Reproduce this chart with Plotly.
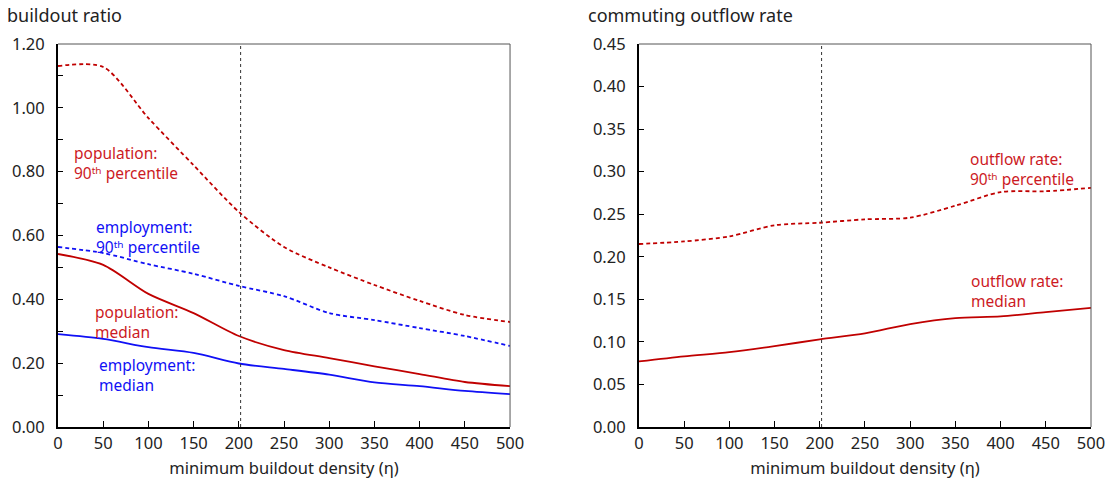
import plotly.graph_objects as go

# Minimum buildout density (eta)
eta = [0, 50, 100, 150, 200, 250, 300, 350, 400, 450, 500]

# Left panel: buildout ratio
pop_p90 = [1.131, 1.128, 0.968, 0.820, 0.674, 0.564, 0.500, 0.445, 0.395, 0.351, 0.329]
emp_p90 = [0.564, 0.545, 0.510, 0.480, 0.442, 0.410, 0.357, 0.335, 0.310, 0.285, 0.254]
pop_med = [0.542, 0.508, 0.417, 0.357, 0.285, 0.241, 0.216, 0.190, 0.166, 0.141, 0.128]
emp_med = [0.291, 0.276, 0.250, 0.232, 0.199, 0.182, 0.164, 0.140, 0.128, 0.113, 0.103]

# Right panel: commuting outflow rate
out_p90 = [0.215, 0.218, 0.224, 0.237, 0.240, 0.244, 0.246, 0.260, 0.276, 0.277, 0.281]
out_med = [0.077, 0.083, 0.088, 0.095, 0.103, 0.110, 0.121, 0.128, 0.130, 0.135, 0.140]

eta_ref = 202
RED = "#C00000"
RED_TXT = "#CC1A24"
BLUE = "#1010F5"
FONT = "Noto Sans"
TXT = "#222"
P90 = "90ᵗʰ percentile"

fig = go.Figure()

def add_line(x, y, color, dashed, xa, ya):
    fig.add_trace(go.Scatter(
        x=x, y=y, mode="lines", xaxis=xa, yaxis=ya,
        line=dict(color=color, width=1.8, shape="spline", smoothing=0.8,
                  dash="4px,3px" if dashed else "solid"),
        showlegend=False, hoverinfo="skip"))

add_line(eta, pop_p90, RED, True, "x", "y")
add_line(eta, emp_p90, BLUE, True, "x", "y")
add_line(eta, pop_med, RED, False, "x", "y")
add_line(eta, emp_med, BLUE, False, "x", "y")
add_line(eta, out_p90, RED, True, "x2", "y2")
add_line(eta, out_med, RED, False, "x2", "y2")

xcommon = dict(range=[0, 500], tickvals=list(range(0, 501, 50)), ticks="inside",
               ticklen=6, tickcolor="black", showline=True, linecolor="black",
               linewidth=1.5, showgrid=False, zeroline=False, automargin=False,
               tickfont=dict(family=FONT, size=16.5, color=TXT),
               title=dict(text="minimum buildout density (η)",
                          font=dict(family=FONT, size=16.5, color=TXT), standoff=10))

ycommon = dict(domain=[0, 1], tickformat=".2f", ticks="inside", ticklen=5, tickcolor="black",
               showline=True, linecolor="black", linewidth=2, showgrid=False, zeroline=False,
               ticklabelstandoff=8, automargin=False,
               tickfont=dict(family=FONT, size=16.5, color=TXT))

fig.update_layout(
    width=1110, height=487,
    margin=dict(l=58, r=19, t=44, b=60),
    plot_bgcolor="white", paper_bgcolor="white",
    xaxis=dict(domain=[0, 0.4376], anchor="y", **xcommon),
    xaxis2=dict(domain=[0.5624, 1.0], anchor="y2", **xcommon),
    yaxis=dict(anchor="x", range=[0, 1.2], tickvals=[0, 0.2, 0.4, 0.6, 0.8, 1.0, 1.2],
               minor=dict(dtick=0.1, ticks="inside", ticklen=5, tickcolor="black"),
               **ycommon),
    yaxis2=dict(anchor="x2", range=[0, 0.45],
                tickvals=[0, 0.05, 0.1, 0.15, 0.2, 0.25, 0.3, 0.35, 0.4, 0.45],
                **ycommon),
)

# Frame: thin gray top and right edges
for xd, yd in [("x domain", "y domain"), ("x2 domain", "y2 domain")]:
    fig.add_shape(type="line", xref=xd, yref=yd, x0=0, x1=1, y0=1, y1=1,
                  line=dict(color="#555", width=1))
    fig.add_shape(type="line", xref=xd, yref=yd, x0=1, x1=1, y0=0, y1=1,
                  line=dict(color="#555", width=1))

# Reference density marker
for xr, yr in [("x", "y domain"), ("x2", "y2 domain")]:
    fig.add_shape(type="line", xref=xr, yref=yr, x0=eta_ref, x1=eta_ref, y0=0, y1=1,
                  line=dict(color="#333", width=1, dash="dot"))

# Panel titles
fig.add_annotation(text="buildout ratio", xref="paper", yref="paper", x=-0.051, y=1.0,
                   yshift=29, xanchor="left", yanchor="middle", showarrow=False,
                   font=dict(family=FONT, size=18, color=TXT))
fig.add_annotation(text="commuting outflow rate", xref="x2 domain", yref="paper", x=-0.118, y=1.0,
                   yshift=29, xanchor="left", yanchor="middle", showarrow=False,
                   font=dict(family=FONT, size=18, color=TXT))

# Series labels
labels = [
    ("population:<br>" + P90, 16, 0.827, "x", "y", RED_TXT),
    ("employment:<br>" + P90, 40, 0.595, "x", "y", BLUE),
    ("population:<br>median", 39, 0.329, "x", "y", RED_TXT),
    ("employment:<br>median", 43, 0.163, "x", "y", BLUE),
    ("outflow rate:<br>" + P90, 364, 0.303, "x2", "y2", RED_TXT),
    ("outflow rate:<br>median", 365, 0.160, "x2", "y2", RED_TXT),
]
for text, x, y, xr, yr, c in labels:
    fig.add_annotation(text=text, x=x, y=y, xref=xr, yref=yr, xanchor="left",
                       yanchor="middle", align="left", showarrow=False,
                       font=dict(family=FONT, size=15.5, color=c))

fig.write_html("out.html")
